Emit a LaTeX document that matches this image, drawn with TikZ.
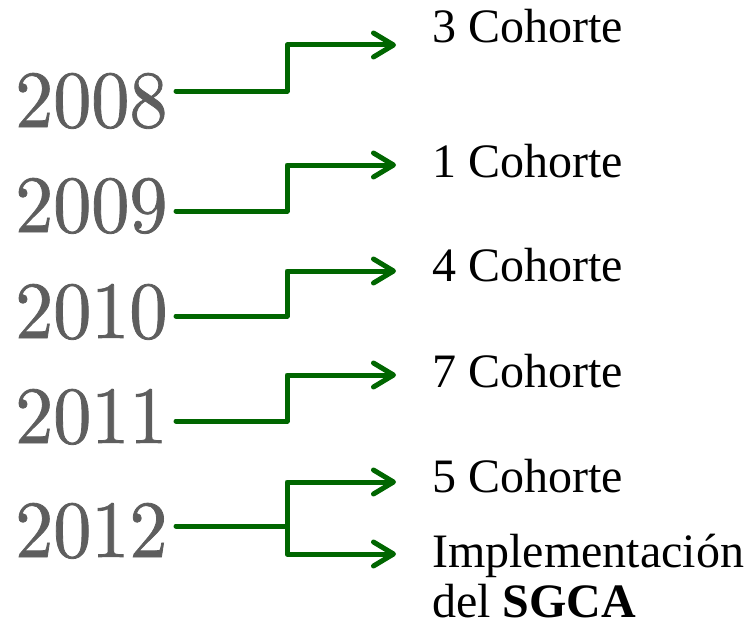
\documentclass[tikz,border=0pt]{standalone}
\usepackage{fontspec}
\setmainfont{Liberation Serif}
\newfontfamily\yearfont[Extension=.otf,FakeBold=1,FakeStretch=0.94]{lmroman10-regular}
\usetikzlibrary{arrows.meta}
\definecolor{conngreen}{RGB}{0,102,0}
\definecolor{yeargray}{RGB}{94,94,94}
\tikzset{
  yearlabel/.style={anchor=base west, inner sep=0pt, text=yeargray, font=\yearfont\fontsize{81}{90}\selectfont},
  cohortlabel/.style={anchor=base west, inner sep=0pt, text=black, font=\fontsize{48}{50}\selectfont},
  conn/.style={draw=conngreen, line width=5pt, line join=round, line cap=round},
  arr/.style={conn, -{Straight Barb[length=20pt,width=24pt,round]}}
}
\begin{document}
\begin{tikzpicture}[x=1pt,y=-1pt]
\useasboundingbox (0,0) rectangle (751,626);
% years
\node[yearlabel] (y2008) at (15,127) {2008};
\node[yearlabel] (y2009) at (15,232) {2009};
\node[yearlabel] (y2010) at (15,338) {2010};
\node[yearlabel] (y2011) at (15,443) {2011};
\node[yearlabel] (y2012) at (15,557) {2012};
% labels
\node[cohortlabel] (c3) at (432,43) {3 Cohorte};
\node[cohortlabel] (c1) at (432,177) {1 Cohorte};
\node[cohortlabel] (c4) at (432,281) {4 Cohorte};
\node[cohortlabel] (c7) at (432,387) {7 Cohorte};
\node[cohortlabel] (c5) at (432,492) {5 Cohorte};
\node[cohortlabel] (impl) at (432,567) {Implementación};
\node[cohortlabel] (sgca) at (432,617) {del \textbf{SGCA}};
% connector endpoints
\coordinate (s1) at (176,91);  \coordinate (t1) at (396,45);
\coordinate (s2) at (176,211); \coordinate (t2) at (396,165);
\coordinate (s3) at (176,316); \coordinate (t3) at (396,271);
\coordinate (s4) at (176,421); \coordinate (t4) at (396,375);
\coordinate (s5) at (176,526); \coordinate (b5) at (287,526);
\coordinate (t5) at (396,482); \coordinate (t6) at (396,554);
% connectors
\draw[arr] (s1) -- ++(111,0) |- (t1);
\draw[arr] (s2) -- ++(111,0) |- (t2);
\draw[arr] (s3) -- ++(111,0) |- (t3);
\draw[arr] (s4) -- ++(111,0) |- (t4);
\draw[arr] (s5) -- (b5) |- (t5);
\draw[arr] (b5) |- (t6);
\end{tikzpicture}
\end{document}
